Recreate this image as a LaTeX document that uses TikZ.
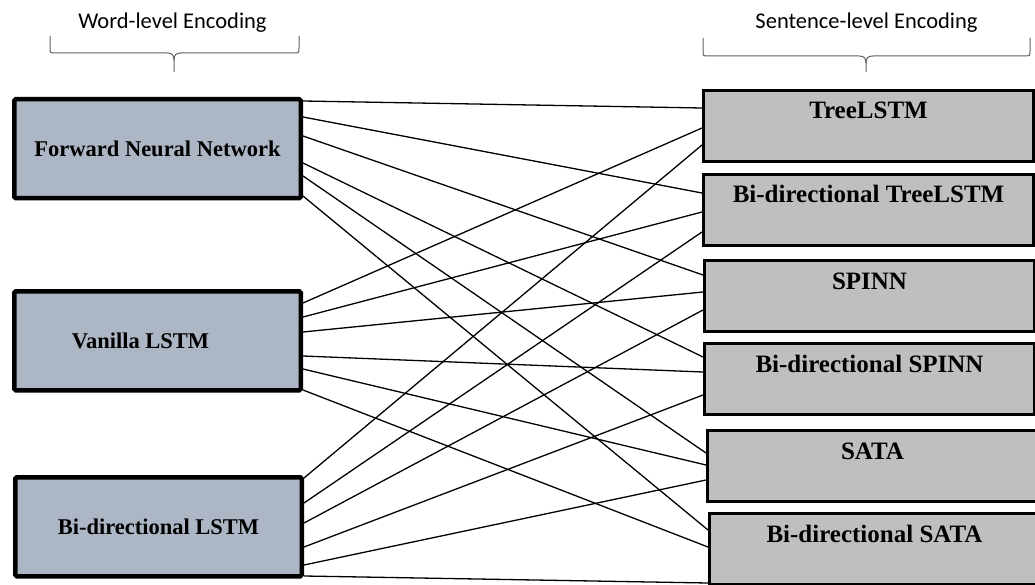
\documentclass[tikz,border=0pt]{standalone}
\usepackage{fontspec}
\setmainfont{Liberation Serif}
\newfontfamily\headfont{Carlito}
\definecolor{wordfill}{RGB}{173,182,197}
\definecolor{sentfill}{RGB}{191,191,191}
\definecolor{bracegray}{RGB}{95,95,95}

\begin{document}
\begin{tikzpicture}[x=1pt, y=-1pt,
  wordbox/.style={draw=black, line width=4.5pt, fill=wordfill, rounded corners=1.5pt,
    minimum width=286.5pt, minimum height=99pt, inner sep=0pt, anchor=north west,
    font=\fontsize{22.5}{27}\selectfont\bfseries},
  sentbox/.style={draw=black, line width=3pt, fill=sentfill,
    minimum width=330pt, minimum height=71pt, inner sep=0pt, anchor=north west,
    text height=28.5pt, text depth=42.5pt,
    font=\fontsize{25}{30}\selectfont\bfseries},
  header/.style={anchor=base, font=\headfont\fontsize{22.5}{27}\selectfont},
  link/.style={line width=1.3pt, black},
  bracket/.style={draw=bracegray, line width=1pt}
]
\useasboundingbox (0,0) rectangle (1035,585);

% group headings
\node[header] (wordhead) at (172.5,29) {Word-level Encoding};
\node[header] (senthead) at (866.5,29) {Sentence-level Encoding};

% curly brackets under the headings
\draw[bracket] (50,36) -- (50,48) .. controls (50,53) .. (56,53) -- (167,53)
  .. controls (172,53) and (174,55) .. (174,60) -- (174,72);
\draw[bracket] (299,36) -- (299,48) .. controls (299,53) .. (293,53) -- (181,53)
  .. controls (176,53) and (174,55) .. (174,60);
\draw[bracket] (703,38) -- (703,51) .. controls (703,56) .. (709,56) -- (859,56)
  .. controls (864,56) and (866,58) .. (866,63) -- (866,72);
\draw[bracket] (1030,38) -- (1030,51) .. controls (1030,56) .. (1024,56) -- (873,56)
  .. controls (868,56) and (866,58) .. (866,63);

% word-level encoders
\node[wordbox] (fnn) at (12,97)  {Forward Neural Network};
\node[wordbox] (van) at (12,289) {Vanilla LSTM\hspace*{34pt}};
\node[wordbox] (bil) at (13,475) {Bi-directional LSTM};

% sentence-level encoders
\node[sentbox] (tree)   at (702,89)  {TreeLSTM};
\node[sentbox] (bitree) at (702,173) {Bi-directional TreeLSTM};
\node[sentbox] (spinn)  at (703,259) {SPINN};
\node[sentbox] (bispinn) at (703,342) {Bi-directional SPINN};
\node[sentbox] (sata)   at (706,429) {SATA};
\node[sentbox] (bisata) at (708,512) {Bi-directional SATA};

% every word-level encoder feeds every sentence-level encoder
\draw[link] ([yshift=-4pt]fnn.north east)  -- ([yshift=-19pt]tree.north west);
\draw[link] ([yshift=-20pt]fnn.north east) -- ([yshift=-20pt]bitree.north west);
\draw[link] ([yshift=-39pt]fnn.north east) -- ([yshift=-16pt]spinn.north west);
\draw[link] ([yshift=-66pt]fnn.north east) -- ([yshift=-15pt]bispinn.north west);
\draw[link] ([yshift=-79pt]fnn.north east) -- ([yshift=-24pt]sata.north west);
\draw[link] ([yshift=-99pt]fnn.north east) -- ([yshift=-18pt]bisata.north west);

\draw[link] ([yshift=-14pt]van.north east)  -- ([yshift=-39pt]tree.north west);
\draw[link] ([yshift=-28pt]van.north east)  -- ([yshift=-39pt]bitree.north west);
\draw[link] ([yshift=-43pt]van.north east)  -- ([yshift=-33pt]spinn.north west);
\draw[link] ([yshift=-67pt]van.north east)  -- ([yshift=-30pt]bispinn.north west);
\draw[link] ([yshift=-80pt]van.north east)  -- ([yshift=-36pt]sata.north west);
\draw[link] ([yshift=-101pt]van.north east) -- ([yshift=-35pt]bisata.north west);

\draw[link] ([yshift=-3pt]bil.north east)   -- ([yshift=-56pt]tree.north west);
\draw[link] ([yshift=-28pt]bil.north east)  -- ([yshift=-59pt]bitree.north west);
\draw[link] ([yshift=-48pt]bil.north east)  -- ([yshift=-51pt]spinn.north west);
\draw[link] ([yshift=-72pt]bil.north east)  -- ([yshift=-53pt]bispinn.north west);
\draw[link] ([yshift=-90pt]bil.north east)  -- ([yshift=-51pt]sata.north west);
\draw[link] ([yshift=-101pt]bil.north east) -- ([yshift=-71pt]bisata.north west);
\end{tikzpicture}
\end{document}
